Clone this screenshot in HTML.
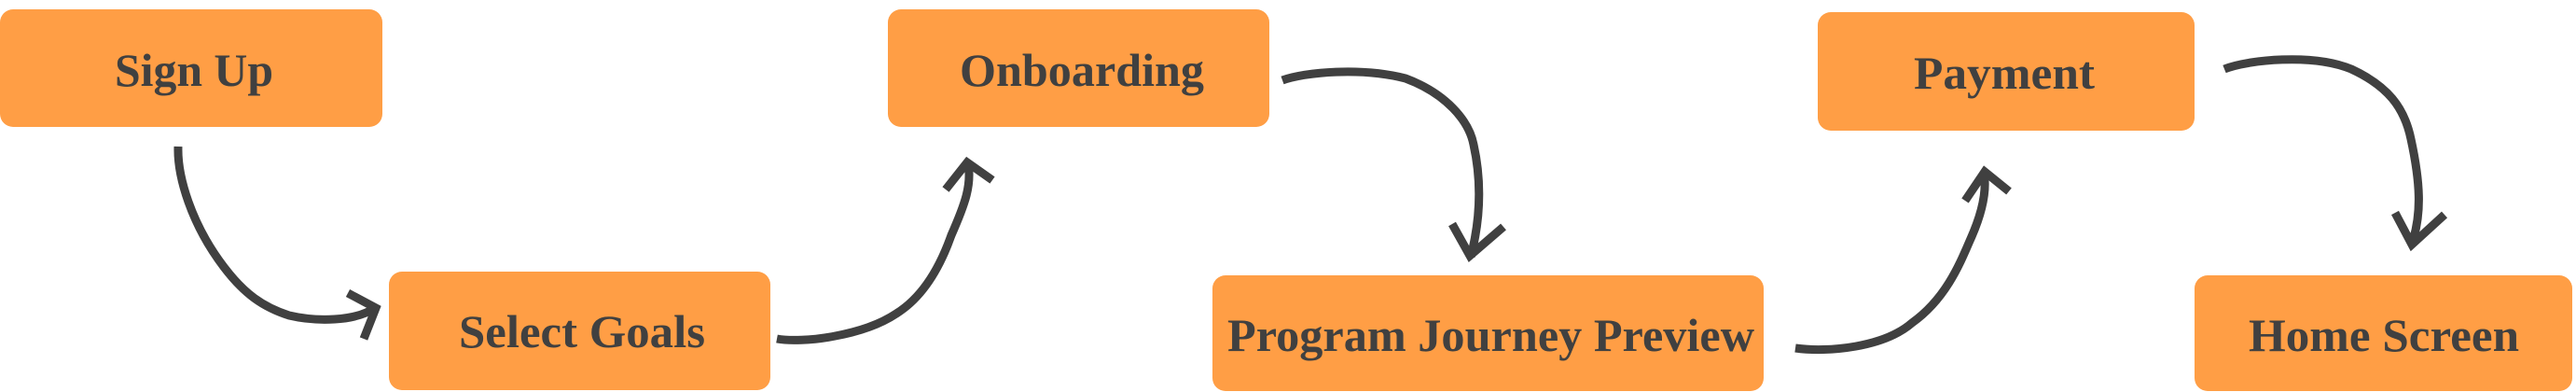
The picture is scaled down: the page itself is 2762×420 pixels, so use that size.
<!DOCTYPE html>
<html><head><meta charset="utf-8"><style>
html,body{margin:0;padding:0;background:#fff;width:2762px;height:420px;overflow:hidden}
svg{display:block}
svg text{font-family:"Liberation Serif",serif;font-weight:bold;fill:#404040;font-size:50px}
</style></head><body>
<svg width="2762" height="420" viewBox="0 0 2762 420" xmlns="http://www.w3.org/2000/svg">
<g fill="#FF9E45">
<rect x="0" y="10" width="410" height="126" rx="14"/>
<rect x="417" y="291" width="409" height="127" rx="14"/>
<rect x="952" y="10" width="409" height="126" rx="14"/>
<rect x="1300" y="295" width="591" height="124" rx="14"/>
<rect x="1949" y="13" width="404" height="127" rx="14"/>
<rect x="2353" y="295" width="405" height="124" rx="14"/>
</g>
<text x="123" y="92" textLength="170" lengthAdjust="spacingAndGlyphs">Sign Up</text>
<text x="492" y="372" textLength="264" lengthAdjust="spacingAndGlyphs">Select Goals</text>
<text x="1029" y="92" textLength="262" lengthAdjust="spacingAndGlyphs">Onboarding</text>
<text x="1316" y="376" textLength="565" lengthAdjust="spacingAndGlyphs">Program Journey Preview</text>
<text x="2052" y="95" textLength="194" lengthAdjust="spacingAndGlyphs">Payment</text>
<text x="2411" y="376" textLength="290" lengthAdjust="spacingAndGlyphs">Home Screen</text>
<g fill="none" stroke="#404040" stroke-width="9" stroke-linejoin="miter">
<path d="M191 157 C190 189 205 240 240 286 C262 315 282 329 310 338 C340 345 380 344 400 331"/>
<path d="M373 314 L403 330 L390 363"/>
<path d="M833 363 C860 368 925 360 961 336 C990 318 1008 286 1020 252 C1035 218 1042 198 1038 175"/>
<path d="M1014 203 L1037 174 L1064 193"/>
<path d="M1375 86 C1400 77 1460 72 1507 84 C1550 100 1575 129 1580 155 C1590 200 1586 240 1577 275"/>
<path d="M1557 240 L1576 274 L1612 243"/>
<path d="M1925 373 C1960 378 2020 372 2050 346 C2085 321 2100 286 2112 258 C2128 223 2130 200 2127 184"/>
<path d="M2107 215 L2128 184 L2154 205"/>
<path d="M2385 74 C2410 64 2480 57 2521 74 C2560 92 2578 115 2585 149 C2595 195 2597 229 2586 261"/>
<path d="M2568 228 L2586 262 L2621 230"/>
</g>
</svg>
</body></html>
